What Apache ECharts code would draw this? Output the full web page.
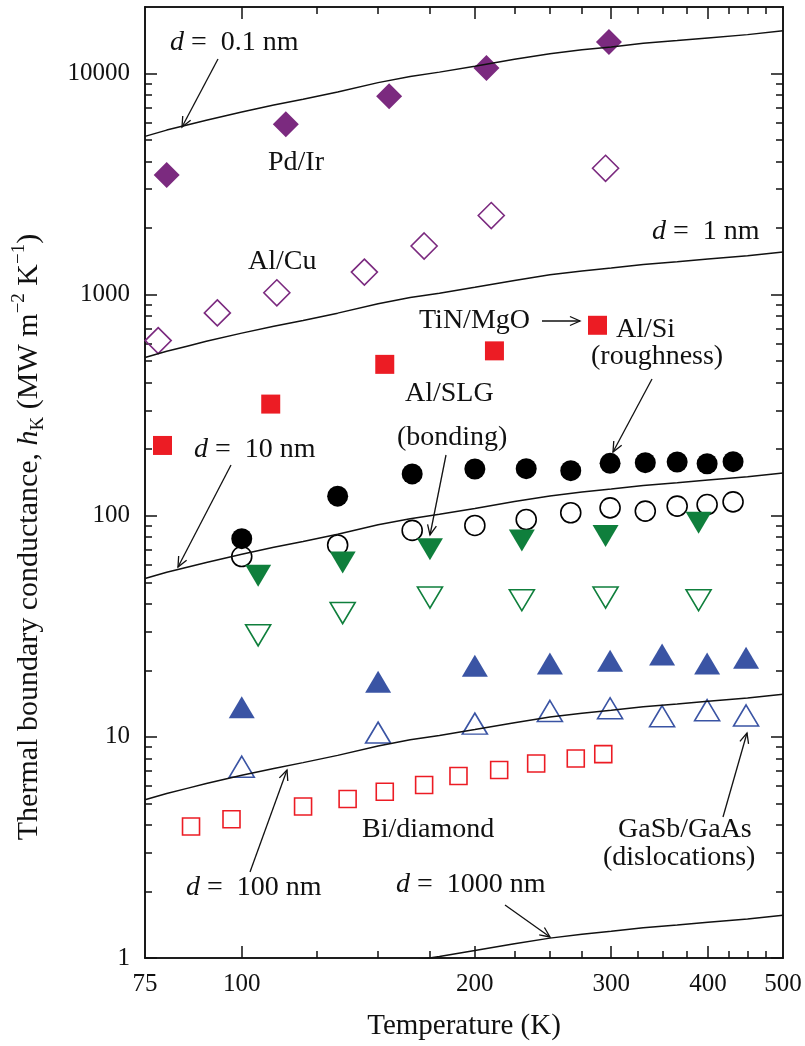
<!DOCTYPE html>
<html><head><meta charset="utf-8">
<script src="https://cdn.jsdelivr.net/npm/echarts@6/dist/echarts.min.js"></script>
<style>html,body{margin:0;padding:0;background:#fff}#c{width:805px;height:1046px}</style>
</head><body><div id="c"></div>
<script>
// ---------- tick values ----------
const xMajorTicks = [100, 200, 300, 400];
const xMinorTicks = [125, 150, 175, 225, 250, 275, 325, 350, 375, 425, 450, 475];
const xTickLabels = [75, 100, 200, 300, 400, 500];
const yMajorTicks = [1, 10, 100, 1000, 10000];
const yMinorTicks = [2,3,4,5,6,7,8,9, 20,30,40,50,60,70,80,90, 200,300,400,500,600,700,800,900, 2000,3000,4000,5000,6000,7000,8000,9000];
const yTickLabels = [1, 10, 100, 1000, 10000];

// ---------- model curves (d = 0.1, 1, 10, 100, 1000 nm) ----------
const lineT     = [75, 80, 85, 90, 100, 110, 120, 133, 150, 165, 180, 200, 225, 250, 275, 300, 330, 365, 400, 450, 500];
const lineD0_1  = [5200, 5550, 5850, 6150, 6700, 7200, 7650, 8250, 9100, 9700, 10150, 10800, 11600, 12300, 12800, 13200, 13700, 14100, 14500, 15000, 15600];
const lineD1    = [520, 555, 585, 615, 670, 720, 765, 825, 910, 970, 1015, 1080, 1160, 1230, 1280, 1320, 1370, 1410, 1450, 1500, 1560];
const lineD10   = [52, 55.5, 58.5, 61.5, 67, 72, 76.5, 82.5, 91, 97, 101.5, 108, 116, 123, 128, 132, 137, 141, 145, 150, 156];
const lineD100  = [5.2, 5.55, 5.85, 6.15, 6.7, 7.2, 7.65, 8.25, 9.1, 9.7, 10.15, 10.8, 11.6, 12.3, 12.8, 13.2, 13.7, 14.1, 14.5, 15.0, 15.6];
const lineD1000 = [0.52, 0.555, 0.585, 0.615, 0.67, 0.72, 0.765, 0.825, 0.91, 0.97, 1.015, 1.08, 1.16, 1.23, 1.28, 1.32, 1.37, 1.41, 1.45, 1.5, 1.56];

// ---------- measured data ----------
const pdIrT = [80, 114, 155, 207, 298];
const pdIrH = [3480, 5900, 7900, 10600, 13900];
const alCuT = [78, 93, 111, 144, 172, 210, 295];
const alCuH = [620, 827, 1020, 1265, 1660, 2280, 3730];
const tinT  = [79, 109, 153, 212, 288];
const tinH  = [208, 320, 484, 557, 727];
const alSiT = [100, 133, 166, 200, 233, 266, 299, 332, 365, 399, 431];
const alSiH = [78.8, 122.7, 154.6, 162.8, 163.4, 160, 172.7, 173.9, 175, 172, 175.7];
const alSiRoughT = [100, 133, 166, 200, 233, 266, 299, 332, 365, 399, 431];
const alSiRoughH = [65.4, 73.8, 85.9, 90.4, 96.2, 103.2, 108.6, 105, 110.6, 112.4, 115.6];
const alSlgT = [105, 135, 175, 230, 295, 389];
const alSlgH = [53.5, 61.4, 70.5, 77.4, 81, 93];
const alSlgBondT = [105, 135, 175, 230, 295, 389];
const alSlgBondH = [28.8, 36.3, 42.7, 41.5, 42.7, 41.5];
const gasbT = [100, 150, 200, 250, 299, 349, 399, 448];
const gasbH = [13.6, 17.75, 20.95, 21.5, 22.1, 23.6, 21.5, 22.8];
const gasbDisT = [100, 150, 200, 250, 299, 349, 399, 448];
const gasbDisH = [7.33, 10.46, 11.48, 13.1, 13.47, 12.4, 13.2, 12.5];
const biDiaT = [86, 97, 120, 137, 153, 172, 190.5, 215, 240, 270, 293];
const biDiaH = [3.93, 4.24, 4.84, 5.24, 5.65, 6.06, 6.65, 7.08, 7.58, 7.98, 8.36];

// ---------- styling ----------
const SERIF = 'Liberation Serif';
const INK = '#111';
const PURPLE = '#7B2A7F', RED = '#EC1C24', GREEN = '#0F7F3C', BLUE = '#3A54A4';

function pairs(T, H) { return T.map((t, i) => [t, H[i]]); }

function xAxisDef(pos, ticks, len, showLabels) {
  return {
    type: 'log', logBase: 10, min: 75, max: 500, position: pos,
    axisLine: { show: true, onZero: false, lineStyle: { color: INK, width: 1.6 } },
    axisTick: { show: true, inside: true, length: len, customValues: ticks, lineStyle: { color: INK, width: 1.5 } },
    axisLabel: { show: showLabels, customValues: xTickLabels, margin: 14, fontFamily: SERIF, fontSize: 25, color: INK,
      formatter: v => String(Math.round(v)) },
    splitLine: { show: false }, minorTick: { show: false }, minorSplitLine: { show: false }
  };
}
function yAxisDef(pos, ticks, len, showLabels) {
  return {
    type: 'log', logBase: 10, min: 1, max: 20000, position: pos,
    axisLine: { show: true, onZero: false, lineStyle: { color: INK, width: 1.6 } },
    axisTick: { show: true, inside: true, length: len, customValues: ticks, lineStyle: { color: INK, width: 1.5 } },
    axisLabel: { show: showLabels, customValues: yTickLabels, margin: 15, fontFamily: SERIF, fontSize: 25, color: INK,
      formatter: v => String(Math.round(v)) },
    splitLine: { show: false }, minorTick: { show: false }, minorSplitLine: { show: false }
  };
}

const xAxes = [
  xAxisDef('bottom', xMajorTicks, 12, true),
  xAxisDef('bottom', xMinorTicks, 7, false),
  xAxisDef('top', xMajorTicks, 12, false),
  xAxisDef('top', xMinorTicks, 7, false)
];
xAxes[0].name = 'Temperature (K)';
xAxes[0].nameLocation = 'middle';
xAxes[0].nameGap = 54;
xAxes[0].nameTextStyle = { fontFamily: SERIF, fontSize: 29, color: INK };

const yAxes = [
  yAxisDef('left', yMajorTicks, 12, true),
  yAxisDef('left', yMinorTicks, 7, false),
  yAxisDef('right', yMajorTicks, 12, false),
  yAxisDef('right', yMinorTicks, 7, false)
];

function scatter(name, T, H, symbol, size, color, open, rotate) {
  return {
    type: 'scatter', name, data: pairs(T, H), symbol, symbolSize: size, symbolRotate: rotate || 0,
    itemStyle: open
      ? { color: 'rgba(255,255,255,0)', borderColor: color, borderWidth: 1.6, opacity: 1 }
      : { color: color, borderWidth: 0, opacity: 1 },
    z: 3, silent: true
  };
}
function curve(name, H) {
  return {
    type: 'line', name, data: pairs(lineT, H), showSymbol: false, symbol: 'none', clip: true,
    lineStyle: { color: INK, width: 1.5 }, z: 4, silent: true
  };
}

const series = [
  scatter('Pd/Ir', pdIrT, pdIrH, 'diamond', 26, PURPLE, false),
  scatter('Al/Cu', alCuT, alCuH, 'diamond', 26, PURPLE, true),
  scatter('TiN/MgO', tinT, tinH, 'rect', 19, RED, false),
  scatter('Al/Si', alSiT, alSiH, 'circle', 21, '#000', false),
  scatter('Al/Si (roughness)', alSiRoughT, alSiRoughH, 'circle', 20, '#000', true),
  scatter('Al/SLG', alSlgT, alSlgH, 'triangle', [26, 22], GREEN, false, 180),
  scatter('Al/SLG (bonding)', alSlgBondT, alSlgBondH, 'triangle', [25, 21], GREEN, true, 180),
  scatter('GaSb/GaAs', gasbT, gasbH, 'triangle', [26, 22], BLUE, false),
  scatter('GaSb/GaAs (dislocations)', gasbDisT, gasbDisH, 'triangle', [25, 21], BLUE, true),
  scatter('Bi/diamond', biDiaT, biDiaH, 'rect', 17, RED, true),
  curve('d = 0.1 nm', lineD0_1),
  curve('d = 1 nm', lineD1),
  curve('d = 10 nm', lineD10),
  curve('d = 100 nm', lineD100),
  curve('d = 1000 nm', lineD1000)
];

// ---------- annotations ----------
const ANN = 28;
const richBase = {
  i: { fontFamily: SERIF, fontSize: ANN, fontStyle: 'italic', fill: INK },
  n: { fontFamily: SERIF, fontSize: ANN, fill: INK }
};
function label(x, y, text, align) {
  return { type: 'text', x, y, z: 10, silent: true,
    style: { text, fontFamily: SERIF, fontSize: ANN, fill: INK, align: align || 'left', verticalAlign: 'middle', rich: richBase } };
}
function arrow(x1, y1, x2, y2) {
  const ang = Math.atan2(y2 - y1, x2 - x1), L = 11, a = 0.42;
  const p1 = [x2 - L * Math.cos(ang - a), y2 - L * Math.sin(ang - a)];
  const p2 = [x2 - L * Math.cos(ang + a), y2 - L * Math.sin(ang + a)];
  return [
    { type: 'line', z: 10, silent: true, shape: { x1, y1, x2, y2 }, style: { stroke: INK, lineWidth: 1.3 } },
    { type: 'polyline', z: 10, silent: true, shape: { points: [p1, [x2, y2], p2] }, style: { stroke: INK, lineWidth: 1.3, fill: null } }
  ];
}

const graphics = [
  label(170, 43, '{i|d}{n| =  0.1 nm}'),
  label(268, 163, 'Pd/Ir'),
  label(248, 262, 'Al/Cu'),
  label(652, 232, '{i|d}{n| =  1 nm}'),
  label(419, 321, 'TiN/MgO'),
  label(616, 330, 'Al/Si'),
  label(591, 357, '(roughness)'),
  label(405, 394, 'Al/SLG'),
  label(397, 438, '(bonding)'),
  label(194, 450, '{i|d}{n| =  10 nm}'),
  label(362, 830, 'Bi/diamond'),
  label(618, 830, 'GaSb/GaAs'),
  label(603, 858, '(dislocations)'),
  label(186, 888, '{i|d}{n| =  100 nm}'),
  label(396, 885, '{i|d}{n| =  1000 nm}'),
  ...arrow(218, 59, 182, 127),
  ...arrow(542, 321, 580, 321),
  ...arrow(652, 379, 613, 452),
  ...arrow(446, 455, 430, 535),
  ...arrow(231, 465, 178, 567),
  ...arrow(723, 817, 747, 733),
  ...arrow(250, 872, 287, 770),
  ...arrow(505, 905, 550, 937),
  {
    type: 'text', x: 29, y: 537, rotation: Math.PI / 2, z: 10, silent: true,
    style: {
      text: '{a|Thermal boundary conductance, }{h|h}{s|K}{a| (MW m}{p|−2}{a| K}{p|−1}{a|)}',
      fontFamily: SERIF, fontSize: 30, fill: INK, align: 'center', verticalAlign: 'middle',
      rich: {
        a: { fontFamily: SERIF, fontSize: 30, fill: INK, lineHeight: 38, verticalAlign: 'middle' },
        h: { fontFamily: SERIF, fontSize: 30, fontStyle: 'italic', fill: INK, lineHeight: 38, verticalAlign: 'middle' },
        s: { fontFamily: SERIF, fontSize: 19, fill: INK, lineHeight: 21, verticalAlign: 'bottom' },
        p: { fontFamily: SERIF, fontSize: 19, fill: INK, lineHeight: 21, verticalAlign: 'top' }
      }
    }
  }
];

const chart = echarts.init(document.getElementById('c'), null, { renderer: 'canvas' });
chart.setOption({
  animation: false,
  backgroundColor: '#fff',
  grid: { left: 145, right: 22, top: 7, bottom: 84, containLabel: false },
  xAxis: xAxes,
  yAxis: yAxes,
  series: series,
  graphic: graphics
});
</script>
</body></html>
